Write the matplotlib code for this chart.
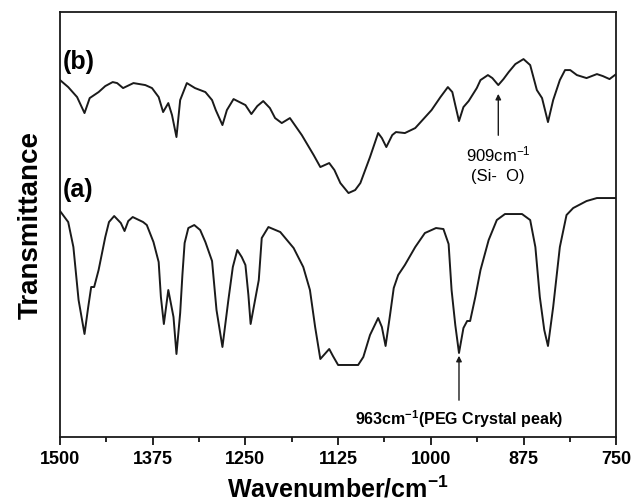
import numpy as np
import matplotlib
matplotlib.use("Agg")
from matplotlib import pyplot as plt
from matplotlib.ticker import MultipleLocator

plt.rcParams['font.family'] = ['Liberation Sans', 'DejaVu Sans']
plt.rcParams['mathtext.default'] = 'regular'

# spectrum (b): wavenumber (cm-1) and transmittance (a.u.)
wn_b = [1500, 1489, 1477, 1467, 1460, 1448, 1439, 1429, 1423, 1415, 1401, 1385, 1376, 1367,
        1361, 1354, 1349, 1343, 1338, 1329, 1318, 1304, 1295, 1290, 1281, 1275, 1266, 1250,
        1242, 1234, 1226, 1217, 1210, 1201, 1190, 1174, 1158, 1149, 1137, 1130, 1122, 1111,
        1102, 1095, 1082, 1071, 1066, 1060, 1052, 1047, 1035, 1021, 999, 987, 977, 971, 967,
        962, 956, 949, 938, 933, 923, 917, 909, 902, 895, 886, 875, 866, 857, 850, 842, 835,
        826, 819, 812, 803, 790, 776, 768, 759, 750]
tr_b = [357, 350, 340, 324, 339, 345, 351, 355, 354, 349, 354, 352, 349, 340,
        325, 334, 322, 300, 337, 354, 349, 345, 337, 327, 312, 327, 338, 332,
        323, 331, 336, 329, 319, 314, 319, 302, 282, 270, 274, 267, 254, 244,
        247, 254, 280, 304, 299, 290, 302, 305, 304, 309, 327, 340, 350, 345, 332,
        316, 330, 336, 349, 357, 362, 359, 352, 358, 365, 373, 378, 372, 347, 339, 315, 337,
        357, 367, 367, 362, 359, 363, 361, 358, 363]

# spectrum (a)
wn_a = [1500, 1489, 1482, 1475, 1467, 1462, 1458, 1454, 1448, 1439, 1434, 1427, 1418, 1413,
        1408, 1402, 1388, 1383, 1374, 1367, 1364, 1360, 1354, 1347, 1343, 1338, 1335, 1332,
        1327, 1319, 1311, 1304, 1295, 1289, 1281, 1273, 1267, 1261, 1255, 1250, 1246, 1243,
        1237, 1232, 1228, 1219, 1203, 1185, 1172, 1163, 1156, 1149, 1137, 1132, 1125, 1113,
        1098, 1091, 1082, 1071, 1066, 1061, 1055, 1050, 1044, 1035, 1021, 1008, 993, 983,
        976, 972, 967, 962, 956, 951, 947, 940, 933, 922, 911, 900, 877, 866, 859, 853,
        847, 842, 835, 826, 817, 808, 790, 776, 750]
tr_a = [226, 215, 190, 137, 103, 130, 150, 150, 167, 200, 215, 221, 214, 206,
        216, 220, 215, 212, 195, 175, 140, 113, 147, 120, 83, 124, 162, 194,
        209, 212, 207, 195, 176, 127, 90, 137, 170, 187, 180, 172, 142, 113,
        137, 157, 199, 210, 205, 189, 170, 147, 110, 78, 88, 81, 72, 72,
        72, 80, 102, 119, 110, 91, 122, 149, 162, 172, 190, 204, 209, 208,
        193, 147, 112, 84, 109, 116, 116, 140, 167, 197, 217, 223, 223, 217, 190, 140,
        107, 91, 130, 190, 222, 229, 236, 239, 239]

x_ticks = [1500, 1375, 1250, 1125, 1000, 875, 750]

fig = plt.figure(figsize=(6.32, 5.04), dpi=100)
ax = fig.add_axes([0.095, 0.133, 0.88, 0.843])

ax.plot(wn_b, tr_b, color='#1a1a1a', lw=1.4, solid_joinstyle='round')
ax.plot(wn_a, tr_a, color='#1a1a1a', lw=1.4, solid_joinstyle='round')

ax.set_xlim(1500, 750)
ax.set_ylim(0, 425)
ax.set_xticks(x_ticks)
ax.xaxis.set_minor_locator(MultipleLocator(62.5))
ax.set_yticks([])
ax.tick_params(axis='x', which='major', direction='out', length=6, width=1.2,
               labelsize=13, pad=4)
ax.tick_params(axis='x', which='minor', direction='out', length=3.5, width=1.2)
for lab in ax.get_xticklabels():
    lab.set_fontweight('bold')
for sp in ax.spines.values():
    sp.set_linewidth(1.3)
    sp.set_color('#1a1a1a')

ax.set_xlabel('Wavenumber/cm$^{-1}$', fontsize=18, fontweight='bold', labelpad=6)
ax.set_ylabel('Transmittance', fontsize=20, fontweight='bold', labelpad=12)

ax.text(1497, 375, '(b)', fontsize=18, fontweight='bold', va='center', ha='left')
ax.text(1497, 247, '(a)', fontsize=18, fontweight='bold', va='center', ha='left')

ax.annotate('', xy=(909, 346), xytext=(909, 299),
            arrowprops=dict(arrowstyle='-|>', color='#1a1a1a', lw=1, mutation_scale=8))
ax.text(909, 283, '909cm$^{-1}$', fontsize=12, ha='center', va='center')
ax.text(909, 261, '(Si-  O)', fontsize=12, ha='center', va='center')

ax.annotate('', xy=(962, 84), xytext=(962, 34),
            arrowprops=dict(arrowstyle='-|>', color='#1a1a1a', lw=1, mutation_scale=8))
ax.text(962, 18, '963cm$^{-1}$(PEG Crystal peak)', fontsize=11.5, fontweight='bold',
        ha='center', va='center')

fig.savefig('out.png', dpi=100)
